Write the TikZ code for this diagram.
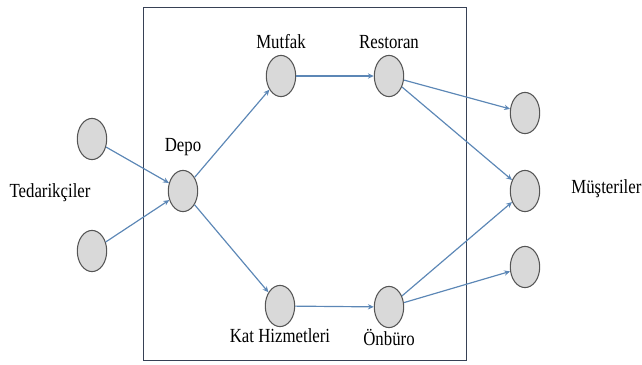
\documentclass[tikz,border=0pt]{standalone}
\usepackage{fontspec}
\setmainfont{Liberation Serif}
\newfontfamily\labelfont{Liberation Serif}[FakeStretch=0.84]
\usetikzlibrary{shapes.geometric, arrows.meta, positioning}
\definecolor{flowblue}{RGB}{92,135,182}
\definecolor{nodegray}{RGB}{217,217,217}
\definecolor{rimgray}{RGB}{85,85,85}
\definecolor{boxslate}{RGB}{55,65,85}

\begin{document}
\begin{tikzpicture}[x=0.85pt, y=-0.85pt,
  station/.style={ellipse, draw=rimgray, fill=nodegray, line width=0.9pt,
    minimum width=25pt, minimum height=35pt, inner sep=0pt},
  flow/.style={draw=flowblue, line width=1pt, -{Stealth[length=5pt, width=4.5pt]}},
  tag/.style={font=\labelfont\fontsize{17}{20}\selectfont, inner sep=1pt}]
  \useasboundingbox (0,0) rectangle (642,364);

  % hotel boundary
  \draw[boxslate, line width=0.8pt] (143,7) rectangle (466,360);

  % suppliers
  \node[station] (ted1) at (92,139) {};
  \node[station] (ted2) at (92,251) {};
  \node[tag] (tedlbl) at (50,193) {Tedarikçiler};

  % inside the hotel
  \node[station] (depo) at (183,191) {};
  \node[station] (mutfak) at (281,76) {};
  \node[station] (restoran) at (389,76) {};
  \node[station] (kat) at (280,306) {};
  \node[station] (onburo) at (389,307) {};
  \node[tag, above=11pt of depo] (depolbl) {Depo};
  \node[tag, above=4pt of mutfak] (mutfaklbl) {Mutfak};
  \node[tag, above=4pt of restoran] (restoranlbl) {Restoran};
  \node[tag, below=0pt of kat] (katlbl) {Kat Hizmetleri};
  \node[tag, below=0pt of onburo] (onburolbl) {Önbüro};

  % customers
  \node[station] (mus1) at (525,113) {};
  \node[station] (mus2) at (525,191) {};
  \node[station] (mus3) at (525,267) {};
  \node[tag, anchor=west] (muslbl) at (570,189) {Müşteriler};

  \foreach \a/\b in {ted1/depo, ted2/depo, depo/mutfak, depo/kat,
                     mutfak/restoran, kat/onburo, restoran/mus1,
                     restoran/mus2, onburo/mus2, onburo/mus3}
    \draw[flow] (\a) -- (\b);
\end{tikzpicture}
\end{document}
